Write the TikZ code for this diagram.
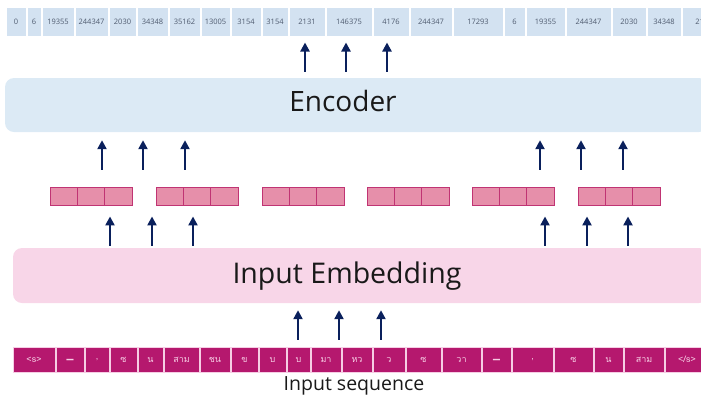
\documentclass[tikz,border=0pt]{standalone}
\usepackage{fontspec}
\setmainfont{Open Sans}
\newfontfamily\thaifont[Script=Thai]{Loma}
\newfontfamily\symfont{DejaVu Sans}
\usetikzlibrary{arrows.meta,positioning,calc}
\definecolor{idblue}{RGB}{211,226,241}
\definecolor{idtext}{RGB}{80,92,112}
\definecolor{encblue}{RGB}{220,234,245}
\definecolor{embpink}{RGB}{248,214,232}
\definecolor{vecpink}{RGB}{230,143,170}
\definecolor{vecedge}{RGB}{192,52,115}
\definecolor{tokmagenta}{RGB}{181,24,110}
\definecolor{toktext}{RGB}{246,205,228}
\definecolor{navy}{RGB}{10,32,92}

\tikzset{
  idbox/.style={fill=idblue,draw=white,line width=1pt,minimum height=29pt,
    inner sep=0pt,text=idtext,font=\fontsize{7.5}{8}\selectfont},
  tokbox/.style={fill=tokmagenta,draw=toktext,line width=0.8pt,minimum height=25pt,
    inner sep=0pt,text=toktext,font=\thaifont\fontsize{9}{10}\selectfont},
  cell/.style={fill=vecpink,draw=vecedge,line width=0.9pt,minimum width=27.33pt,
    minimum height=18pt,inner sep=0pt},
  block/.style={rounded corners=9pt,inner sep=0pt},
  uparr/.style={-{Triangle[length=9pt,width=9pt]},navy,line width=2.6pt},
}

\begin{document}
\begin{tikzpicture}[x=1pt,y=-1pt]
  \useasboundingbox (0,0) rectangle (701,397);

  % token ids on top
  \foreach [count=\i] \l/\r/\lab in {6/26/0, 27/41/6, 42/74/19355, 75/108/244347,
      109/136/2030, 137/168/34348, 169/200/35162, 201/230/13005, 231/261/3154,
      262/288/3154, 289/325/2131, 326/372/146375, 373/409/4176, 410/452/244347,
      453/503/17293, 504/525/6, 526/565/19355, 566/611/244347, 612/646/2030,
      647/681/34348, 682/726/2131}
    \node[idbox,minimum width={(\r-\l)*1pt}] (id\i) at ({(\l+\r)/2},21.5) {\lab};

  % encoder
  \node[block,fill=encblue,minimum width=703pt,minimum height=54pt] (enc) at (356.5,105) {};
  \node[font=\fontsize{28}{30}\selectfont,text=black!90] (enclab) at (343,101) {Encoder};

  % embedding vectors, 3 cells each
  \foreach [count=\g] \l in {50,156,262,367,472,578}
    \foreach \c in {1,2,3}
      \node[cell] (v\g-\c) at ({\l+13.67+(\c-1)*27.33},196) {};

  % input embedding
  \node[block,fill=embpink,minimum width=695pt,minimum height=55pt] (emb) at (360.5,275.5) {};
  \node[font=\fontsize{28.5}{31}\selectfont,text=black!90] (emblab) at (347,276) {Input Embedding};

  % thai subword tokens
  \foreach [count=\i] \l/\r/\lab in {13/55/{<s>}, 56/84/{\symfont ▁}, 85/109/{,}, 110/137/ซ,
      138/163/น, 164/199/สาม, 200/230/ชน, 231/258/ข, 259/286/บ, 287/310/บ,
      311/341/มา, 342/372/หว, 373/405/ว, 406/441/ซ, 442/481/วา,
      482/511/{\symfont ▁}, 512/553/{,}, 554/593/ซ, 594/623/น, 624/664/สาม, 665/709/{</s>}}
    \node[tokbox,minimum width={(\r-\l)*1pt}] (tk\i) at ({(\l+\r)/2},359.5) {\lab};
  \node[font=\fontsize{19.5}{22}\selectfont,text=black!90] (seqlab) at (354,386) {Input sequence};

  % arrows
  \foreach \x in {298,339,381}
    \draw[uparr,shorten <=7pt,shorten >=7pt] (\x,0 |- tk10.north) -- (\x,0 |- emb.south);
  \foreach \x in {110,152,193,545,587,628}
    \draw[uparr,shorten <=2pt,shorten >=11pt] (\x,0 |- emb.north) -- (\x,0 |- v1-1.south);
  \foreach \x in {102,143,185,540,581,623}
    \draw[uparr,shorten <=17pt,shorten >=8pt] (\x,0 |- v1-1.north) -- (\x,0 |- enc.south);
  \foreach \x in {305,346,387}
    \draw[uparr,shorten <=6pt,shorten >=6pt] (\x,0 |- enc.north) -- (\x,0 |- id11.south);
\end{tikzpicture}
\end{document}
